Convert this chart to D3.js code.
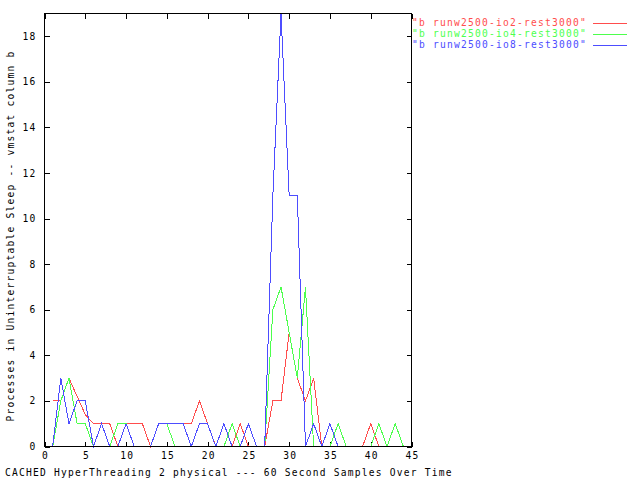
<!DOCTYPE html>
<html>
<head>
<meta charset="utf-8">
<script src="https://cdn.jsdelivr.net/npm/d3@7/dist/d3.min.js"></script>
<style>
html,body{margin:0;padding:0;background:#fff;}
svg text{font-family:"DejaVu Sans Mono","Liberation Mono",monospace;font-size:9.6px;letter-spacing:1.22px;}
</style>
</head>
<body>
<svg id="chart" width="640" height="480"></svg>
<script>
const samples = [1,2,3,4,5,6,7,8,9,10,11,12,13,14,15,16,17,18,19,20,21,22,23,24,25,26,27,28,29,30,31,32,33,34,35,36,37,38,39,40,41,42,43,44,45];
const seriesNames = ['"b runw2500-io2-rest3000"','"b runw2500-io4-rest3000"','"b runw2500-io8-rest3000"'];
const io2 = [2,2,3,2.2,1.4,1,1,1,0,1,1,1,0,1,1,1,1,1,2,1,0,0,0,1,0,0,0,2,2,5,3,2,3,0,0,0,0,0,0,1,0,0,0,0,0];
const io4 = [0,2,3,1,1,0,0,0,1,1,0,0,0,1,1,0,0,0,0,0,0,0,1,0,0,0,0,6,7,5,3,7,0,0,0,1,0,0,0,0,1,0,1,0,0];
const io8 = [0,3,1,2,2,0,1,0,0,1,0,0,0,1,1,1,1,0,1,1,0,1,0,0,1,0,0,11,19,11,11,0,1,0,1,0,0,0,0,0,0,0,0,0,0];
const xTicks = [0,5,10,15,20,25,30,35,40,45];
const yTicks = [0,2,4,6,8,10,12,14,16,18];
const xLabel = "CACHED HyperThreading 2 physical --- 60 Second Samples Over Time";
const yLabel = "Processes in Uninterruptable Sleep -- vmstat column b";
const colors = ["#ff4d4d","#4dff4d","#4d4dff"];

const svg = d3.select("#chart");
const L = 44.5, R = 411.5, T = 13.5, B = 446.5;
const x = d3.scaleLinear().domain([0,45]).range([L,R]);
const y = d3.scaleLinear().domain([0,19]).range([B,T]);
const FONT = '"DejaVu Sans Mono",monospace';

// axes (ticks inward, mirrored)
const gx = svg.append("g").attr("transform",`translate(0,${B})`)
  .call(d3.axisBottom(x).tickValues(xTicks).tickSizeInner(-5).tickSizeOuter(0).tickPadding(6).tickFormat(d3.format("d")));
const gxt = svg.append("g").attr("transform",`translate(0,${T})`)
  .call(d3.axisTop(x).tickValues(xTicks).tickSizeInner(-5).tickSizeOuter(0).tickFormat(""));
const gy = svg.append("g").attr("transform",`translate(${L},0)`)
  .call(d3.axisLeft(y).tickValues(yTicks).tickSizeInner(-5).tickSizeOuter(0).tickPadding(8).tickFormat(d3.format("d")));
const gyr = svg.append("g").attr("transform",`translate(${R},0)`)
  .call(d3.axisRight(y).tickValues(yTicks).tickSizeInner(-5).tickSizeOuter(0).tickFormat(""));
[gx,gxt,gy,gyr].forEach(g=>{
  g.select(".domain").remove();
  g.selectAll("line").attr("stroke","#000").attr("shape-rendering","crispEdges");
  g.selectAll("text").attr("fill","#000").style("font-family",FONT).style("font-size","9.6px").style("letter-spacing","1.22px");
});
gx.selectAll("text").attr("dx","0.6px");

// series
const lineGen = d3.line().x((d,i)=>x(samples[i])).y(d=>y(d));
[io2,io4,io8].forEach((s,k)=>{
  svg.append("path").datum(s).attr("d",lineGen)
    .attr("fill","none").attr("stroke",colors[k]).attr("stroke-width",1)
    .attr("shape-rendering","crispEdges");
});

// frame
svg.append("rect").attr("x",L).attr("y",T).attr("width",R-L).attr("height",B-T)
  .attr("fill","none").attr("stroke","#000").attr("shape-rendering","crispEdges");

// legend
seriesNames.forEach((n,k)=>{
  const ly = 23 + k*11;
  svg.append("text").attr("x",412).attr("y",ly).attr("dy","0.35em")
    .attr("text-anchor","start").attr("fill",colors[k]).text(n);
  svg.append("line").attr("x1",593).attr("x2",627).attr("y1",Math.round(ly)+0.5).attr("y2",Math.round(ly)+0.5)
    .attr("stroke",colors[k]).attr("shape-rendering","crispEdges");
});

// axis titles
svg.append("text").attr("x",5).attr("y",473).attr("dy","0.35em")
  .attr("text-anchor","start").attr("fill","#000").text(xLabel);
svg.append("text").attr("transform",`translate(11,${(T+B)/2+6}) rotate(-90)`).attr("dy","0.35em")
  .attr("text-anchor","middle").attr("fill","#000").text(yLabel);
</script>
</body>
</html>
